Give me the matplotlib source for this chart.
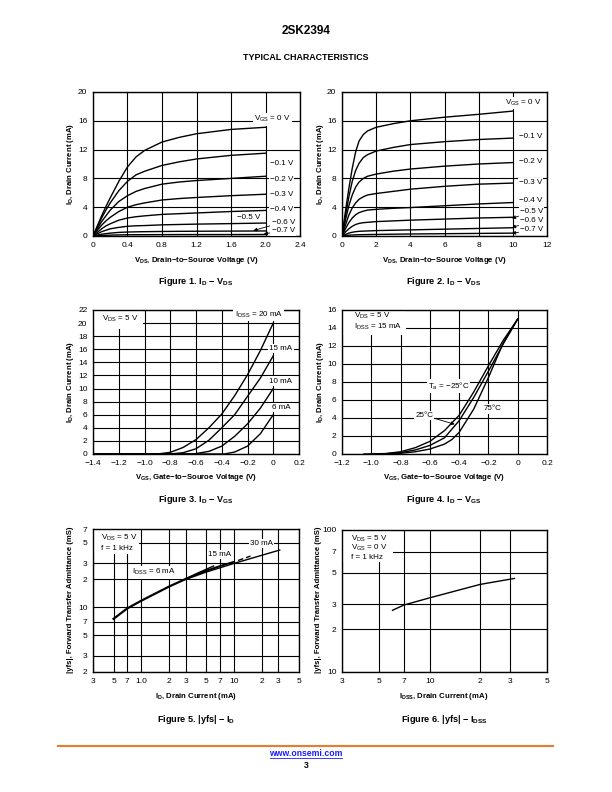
import matplotlib
matplotlib.use('Agg')
import matplotlib.pyplot as plt
from matplotlib.lines import Line2D
from matplotlib.patches import Rectangle
from matplotlib.ticker import NullLocator

plt.rcParams['font.family'] = ['Liberation Sans', 'DejaVu Sans']
plt.rcParams['mathtext.fontset'] = 'custom'
plt.rcParams['mathtext.rm'] = 'Liberation Sans'
plt.rcParams['mathtext.it'] = 'Liberation Sans:italic'
plt.rcParams['mathtext.bf'] = 'Liberation Sans:bold'

# ---- Figure 1: ID - VDS (0..2 V), one row per VGS = 0 ... -0.7 V
fig1_vds = [0, 0.05, 0.1, 0.15, 0.2, 0.3, 0.4, 0.5, 0.6, 0.8, 1.0, 1.2, 1.6, 2.0]
fig1_id = [
    [0, 1.4, 2.8, 4.1, 5.3, 7.6, 9.6, 11.0, 11.9, 13.05, 13.7, 14.2, 14.8, 15.1],
    [0, 1.25, 2.5, 3.6, 4.6, 6.3, 7.6, 8.5, 9.0, 9.8, 10.3, 10.7, 11.2, 11.5],
    [0, 1.0, 2.0, 2.8, 3.6, 4.8, 5.6, 6.2, 6.6, 7.2, 7.5, 7.7, 8.0, 8.3],
    [0, 0.8, 1.5, 2.1, 2.6, 3.4, 4.0, 4.35, 4.6, 5.0, 5.2, 5.35, 5.6, 5.8],
    [0, 0.5, 1.0, 1.4, 1.7, 2.2, 2.5, 2.68, 2.8, 3.0, 3.1, 3.2, 3.4, 3.55],
    [0, 0.3, 0.6, 0.8, 1.0, 1.2, 1.35, 1.42, 1.45, 1.55, 1.6, 1.65, 1.72, 1.8],
    [0, 0.13, 0.25, 0.33, 0.4, 0.5, 0.55, 0.58, 0.6, 0.63, 0.65, 0.66, 0.68, 0.7],
    [0, 0.04, 0.08, 0.1, 0.12, 0.15, 0.17, 0.18, 0.18, 0.19, 0.2, 0.2, 0.2, 0.21],
]

# ---- Figure 2: ID - VDS (0..10 V)
fig2_vds = [0, 0.2, 0.4, 0.6, 0.8, 1.0, 1.25, 1.5, 2, 3, 4, 6, 8, 10]
fig2_id = [
    [0, 3.4, 6.6, 9.4, 11.7, 13.2, 14.1, 14.6, 15.1, 15.6, 16.0, 16.5, 16.9, 17.35],
    [0, 2.8, 5.4, 7.6, 9.1, 10.1, 10.9, 11.3, 11.8, 12.3, 12.7, 13.1, 13.4, 13.6],
    [0, 2.2, 4.2, 5.7, 6.8, 7.5, 8.0, 8.3, 8.6, 9.0, 9.3, 9.7, 10.0, 10.2],
    [0, 1.5, 2.9, 3.9, 4.6, 5.1, 5.45, 5.7, 5.9, 6.2, 6.5, 6.9, 7.2, 7.35],
    [0, 1.0, 1.85, 2.5, 2.95, 3.25, 3.45, 3.6, 3.7, 3.85, 3.95, 4.2, 4.45, 4.65],
    [0, 0.55, 1.0, 1.35, 1.6, 1.75, 1.85, 1.9, 2.0, 2.1, 2.2, 2.35, 2.5, 2.6],
    [0, 0.22, 0.4, 0.52, 0.6, 0.65, 0.68, 0.7, 0.75, 0.8, 0.85, 0.95, 1.05, 1.15],
    [0, 0.07, 0.11, 0.14, 0.16, 0.18, 0.19, 0.2, 0.22, 0.25, 0.28, 0.32, 0.36, 0.4],
]

# ---- Figure 3: ID - VGS for IDSS = 20, 15, 10, 6 mA
fig3_vgs = [
    [-1.4, -0.9, -0.8, -0.7, -0.6, -0.5, -0.4, -0.3, -0.2, -0.1, 0],
    [-1.4, -0.8, -0.7, -0.6, -0.5, -0.4, -0.3, -0.2, -0.1, 0],
    [-1.4, -0.62, -0.5, -0.4, -0.3, -0.2, -0.1, 0],
    [-1.4, -0.38, -0.3, -0.2, -0.1, 0],
]
fig3_id = [
    [0, 0, 0.25, 1.0, 2.2, 4.0, 6.1, 8.9, 12.1, 15.8, 20],
    [0, 0, 0.2, 0.8, 2.1, 4.0, 6.0, 8.8, 11.6, 15],
    [0, 0, 0.4, 1.2, 2.7, 4.6, 7.0, 10],
    [0, 0, 0.3, 1.2, 3.1, 6],
]

# ---- Figure 4: ID - VGS, Ta = -25, 25, 75 C
fig4_vgs = [
    [-1.05, -0.9, -0.8, -0.7, -0.6, -0.5, -0.4, -0.3, -0.2, -0.1, 0],
    [-1.0, -0.9, -0.8, -0.7, -0.6, -0.5, -0.4, -0.3, -0.2, -0.1, 0],
    [-0.95, -0.8, -0.7, -0.6, -0.5, -0.45, -0.4, -0.3, -0.2, -0.1, 0],
]
fig4_id = [
    [0, 0.05, 0.25, 0.7, 1.4, 2.6, 4.3, 6.9, 9.8, 12.6, 15],
    [0, 0.03, 0.15, 0.45, 0.95, 1.8, 3.7, 6.3, 9.2, 12.2, 15],
    [0, 0.08, 0.25, 0.55, 1.1, 1.6, 2.4, 5.0, 8.5, 12.3, 15],
]

# ---- Figure 5: |yfs| - ID
fig5_id_common = [0.5, 0.7, 1.0, 2.0, 3.0]
fig5_yfs_common = [7.5, 9.7, 11.8, 16.8, 20.2]
fig5_id_6 = [3.0, 4.0, 6.0]
fig5_yfs_6 = [20.4, 23.3, 27.9]
fig5_id_10 = [3.0, 5.0, 7.0, 10.0]
fig5_yfs_10 = [20.3, 25.0, 28.0, 31.2]
fig5_id_15 = [3.0, 5.0, 7.0, 10.0]
fig5_yfs_15 = [20.2, 24.6, 27.6, 31.0]
fig5_id_15_dash = [11.0, 15.0]
fig5_yfs_15_dash = [32.0, 35.7]
fig5_id_30 = [3.0, 5.0, 10.0, 20.0, 31.0]
fig5_yfs_30 = [20.0, 24.0, 29.8, 36.5, 41.5]

# ---- Figure 6: |yfs| - IDSS
fig6_idss = [6, 7, 10, 20, 32]
fig6_yfs = [27.2, 29.6, 33.3, 41.4, 45.6]

W, H = 612, 792
fig = plt.figure(figsize=(W / 100, H / 100), dpi=100)


def axes_px(x0, y0, x1, y1):
    return fig.add_axes([x0 / W, 1 - y1 / H, (x1 - x0) / W, (y1 - y0) / H])


def ftext(x, y, s, **kw):
    fig.text(x / W, 1 - y / H, s, ha='center', va='center', **kw)


def style(ax, xt, xl, yt, yl):
    ax.set_xticks(xt)
    ax.set_xticklabels(xl)
    ax.set_yticks(yt)
    ax.set_yticklabels(yl)
    ax.xaxis.set_minor_locator(NullLocator())
    ax.yaxis.set_minor_locator(NullLocator())
    ax.tick_params(length=0, labelsize=6, pad=4)
    ax.grid(True, color='black', lw=0.8)
    ax.set_axisbelow(True)
    for s in ax.spines.values():
        s.set_linewidth(1.0)


def lab(ax, x, y, s, ha='left', fs=5.8):
    ax.text(x, y, s, fontsize=fs, ha=ha, va='center', zorder=5,
            bbox=dict(fc='white', ec='none', pad=0.8))


def arrow_lab(ax, s, xy, xytext):
    ax.annotate(s, xy=xy, xytext=xytext, fontsize=5.8, va='center', zorder=5,
                bbox=dict(fc='white', ec='none', pad=0.8),
                arrowprops=dict(arrowstyle='-|>', color='black', lw=0.6,
                                mutation_scale=5, shrinkA=0, shrinkB=0))


def box(ax, x0, y0, x1, y1):
    ax.add_patch(Rectangle((x0, y0), x1 - x0, y1 - y0, fc='white', ec='none', zorder=2.5))


def curve(ax, x, y, lw=1.0, **kw):
    ax.plot(x, y, color='black', lw=lw, zorder=3, **kw)


M = '\u2212'
ylab_id = r'I$_{\mathbf{D}}$, Drain Current (mA)'
ylab_yfs = r'|yfs|, Forward Transfer Admittance (mS)'

# ---------------- Figure 1
ax1 = axes_px(93, 92, 300, 236)
ax1.set_xlim(0, 2.4)
ax1.set_ylim(0, 20)
style(ax1, [0, 0.4, 0.8, 1.2, 1.6, 2.0, 2.4], ['0', '0.4', '0.8', '1.2', '1.6', '2.0', '2.4'],
      [0, 4, 8, 12, 16, 20], ['0', '4', '8', '12', '16', '20'])
for ys in fig1_id:
    curve(ax1, fig1_vds, ys)
lab(ax1, 1.87, 16.2, r'V$_{\mathrm{GS}}$ = 0 V')
lab(ax1, 2.05, 10.1, M + '0.1 V')
lab(ax1, 2.05, 7.9, M + '0.2 V')
lab(ax1, 2.05, 5.8, M + '0.3 V')
lab(ax1, 2.05, 3.7, M + '0.4 V')
lab(ax1, 1.67, 2.6, M + '0.5 V')
arrow_lab(ax1, M + '0.6 V', (1.86, 0.75), (2.07, 1.94))
arrow_lab(ax1, M + '0.7 V', (1.98, 0.3), (2.07, 0.7))

# ---------------- Figure 2
ax2 = axes_px(342, 92, 547, 236)
ax2.set_xlim(0, 12)
ax2.set_ylim(0, 20)
style(ax2, [0, 2, 4, 6, 8, 10, 12], ['0', '2', '4', '6', '8', '10', '12'],
      [0, 4, 8, 12, 16, 20], ['0', '4', '8', '12', '16', '20'])
for ys in fig2_id:
    curve(ax2, fig2_vds, ys)
lab(ax2, 9.55, 18.5, r'V$_{\mathrm{GS}}$ = 0 V')
lab(ax2, 10.35, 13.8, M + '0.1 V')
lab(ax2, 10.35, 10.4, M + '0.2 V')
lab(ax2, 10.35, 7.45, M + '0.3 V')
lab(ax2, 10.35, 4.9, M + '0.4 V')
arrow_lab(ax2, M + '0.5 V', (9.95, 2.45), (10.4, 3.35))
arrow_lab(ax2, M + '0.6 V', (9.95, 1.15), (10.4, 2.1))
arrow_lab(ax2, M + '0.7 V', (9.95, 0.35), (10.4, 0.84))

# ---------------- Figure 3
ax3 = axes_px(93, 310, 299, 454)
ax3.set_xlim(-1.4, 0.2)
ax3.set_ylim(0, 22)
x3 = [-1.4, -1.2, -1.0, -0.8, -0.6, -0.4, -0.2, 0, 0.2]
style(ax3, x3, [M + '1.4', M + '1.2', M + '1.0', M + '0.8', M + '0.6', M + '0.4', M + '0.2', '0', '0.2'],
      list(range(0, 23, 2)), [str(v) for v in range(0, 23, 2)])
for xs, ys in zip(fig3_vgs, fig3_id):
    curve(ax3, xs, ys)
box(ax3, -1.4, 19.1, -1.015, 22)
ax3.text(-1.33, 20.6, r'V$_{\mathrm{DS}}$ = 5 V', fontsize=5.8, va='center', zorder=5)
lab(ax3, -0.30, 21.2, r'I$_{\mathrm{DSS}}$ = 20 mA')
lab(ax3, -0.03, 16.1, '15 mA')
lab(ax3, -0.03, 11.15, '10 mA')
lab(ax3, -0.01, 7.1, '6 mA')

# ---------------- Figure 4
ax4 = axes_px(342, 310, 547, 454)
ax4.set_xlim(-1.2, 0.2)
ax4.set_ylim(0, 16)
x4 = [-1.2, -1.0, -0.8, -0.6, -0.4, -0.2, 0, 0.2]
style(ax4, x4, [M + '1.2', M + '1.0', M + '0.8', M + '0.6', M + '0.4', M + '0.2', '0', '0.2'],
      list(range(0, 17, 2)), [str(v) for v in range(0, 17, 2)])
for xs, ys in zip(fig4_vgs, fig4_id):
    curve(ax4, xs, ys)
box(ax4, -1.2, 13.2, -0.76, 16)
ax4.text(-1.12, 15.33, r'V$_{\mathrm{DS}}$ = 5 V', fontsize=5.8, va='center', zorder=5)
ax4.text(-1.12, 14.08, r'I$_{\mathrm{DSS}}$ = 15 mA', fontsize=5.8, va='center', zorder=5)
lab(ax4, -0.615, 7.55, r'T$_{\mathrm{a}}$ = ' + M + '25°C')
arrow_lab(ax4, '25°C', (-0.43, 3.3), (-0.70, 4.3))
lab(ax4, -0.23, 5.0, '75°C')

# ---------------- Figure 5
ax5 = axes_px(93, 529, 299, 672)
ax5.set_xscale('log')
ax5.set_yscale('log')
ax5.set_xlim(0.3, 50)
ax5.set_ylim(2, 70)
style(ax5, [0.3, 0.5, 0.7, 1, 2, 3, 5, 7, 10, 20, 30, 50],
      ['3', '5', '7', '1.0', '2', '3', '5', '7', '10', '2', '3', '5'],
      [2, 3, 5, 7, 10, 20, 30, 50, 70], ['2', '3', '5', '7', '10', '2', '3', '5', '7'])
curve(ax5, fig5_id_common, fig5_yfs_common, lw=1.6)  # several curves on top of each other
curve(ax5, fig5_id_6, fig5_yfs_6)
curve(ax5, fig5_id_10, fig5_yfs_10)
curve(ax5, fig5_id_15, fig5_yfs_15)
curve(ax5, fig5_id_15_dash, fig5_yfs_15_dash, ls=(0, (4, 2)))
curve(ax5, fig5_id_30, fig5_yfs_30)
box(ax5, 0.3, 38, 0.95, 70)
ax5.text(0.37, 55.6, r'V$_{\mathrm{DS}}$ = 5 V', fontsize=5.8, va='center', zorder=5)
ax5.text(0.37, 43.3, 'f = 1 kHz', fontsize=5.8, va='center', zorder=5)
lab(ax5, 0.80, 23.8, r'I$_{\mathrm{DSS}}$ = 6 mA')
lab(ax5, 5.2, 37.3, '15 mA')
lab(ax5, 14.7, 49, '30 mA')

# ---------------- Figure 6
ax6 = axes_px(342, 530, 547, 672)
ax6.set_xscale('log')
ax6.set_yscale('log')
ax6.set_xlim(3, 50)
ax6.set_ylim(10, 100)
style(ax6, [3, 5, 7, 10, 20, 30, 50], ['3', '5', '7', '10', '2', '3', '5'],
      [10, 20, 30, 50, 70, 100], ['10', '2', '3', '5', '7', '100'])
curve(ax6, fig6_idss, fig6_yfs)
box(ax6, 3, 59.5, 6.0, 100)
ax6.text(3.4, 87, r'V$_{\mathrm{DS}}$ = 5 V', fontsize=5.8, va='center', zorder=5)
ax6.text(3.4, 74.5, r'V$_{\mathrm{GS}}$ = 0 V', fontsize=5.8, va='center', zorder=5)
ax6.text(3.4, 64, 'f = 1 kHz', fontsize=5.8, va='center', zorder=5)

# ---------------- axis titles and captions
bold = dict(fontsize=5.6, fontweight='bold')
cap = dict(fontsize=6.6, fontweight='bold')
ftext(196, 260, 'V$_{\\mathbf{DS}}$, Drain\u2212to\u2212Souroe Voltage (V)', **bold)
ftext(444, 260, 'V$_{\\mathbf{DS}}$, Drain\u2212to\u2212Souroe Voltage (V)', **bold)
ftext(196, 478, 'V$_{\\mathbf{GS}}$, Gate\u2212to\u2212Souroe Voltage (V)', **bold)
ftext(444, 478, 'V$_{\\mathbf{GS}}$, Gate\u2212to\u2212Souroe Voltage (V)', **bold)
ftext(196, 696, r'I$_{\mathbf{D}}$, Drain Current (mA)', **bold)
ftext(444, 696, r'I$_{\mathbf{DSS}}$, Drain Current (mA)', **bold)

for x, yc in [(71, 164), (320, 164), (71, 382), (320, 382)]:
    ftext(x, yc, ylab_id, rotation=90, **bold)
for x, yc in [(70, 600), (319, 600)]:
    ftext(x, yc, ylab_yfs, rotation=90, **bold)

ftext(196, 282, r'Figure 1. I$_{\mathbf{D}}$ ' + M + r' V$_{\mathbf{DS}}$', **cap)
ftext(444, 282, r'Figure 2. I$_{\mathbf{D}}$ ' + M + r' V$_{\mathbf{DS}}$', **cap)
ftext(196, 499, r'Figure 3. I$_{\mathbf{D}}$ ' + M + r' V$_{\mathbf{GS}}$', **cap)
ftext(444, 499, r'Figure 4. I$_{\mathbf{D}}$ ' + M + r' V$_{\mathbf{GS}}$', **cap)
ftext(196, 719, 'Figure 5. |yfs| ' + M + r' I$_{\mathbf{D}}$', **cap)
ftext(444, 719, 'Figure 6. |yfs| ' + M + r' I$_{\mathbf{DSS}}$', **cap)

# ---------------- header / footer
ftext(306, 31, '2SK2394', fontsize=8.5, fontweight='bold')
ftext(306, 58, 'TYPICAL CHARACTERISTICS', fontsize=6.4, fontweight='bold')
fig.add_artist(Line2D([58 / W, 553 / W], [1 - 745.5 / H, 1 - 745.5 / H], color='#d9833a', lw=1.6))
ftext(306, 753.5, 'www.onsemi.com', fontsize=6.2, fontweight='bold', color='#1a1aff')
fig.add_artist(Line2D([270 / W, 342 / W], [1 - 757.5 / H, 1 - 757.5 / H], color='#1a1aff', lw=0.6))
ftext(306, 765, '3', fontsize=6.2, fontweight='bold')

fig.savefig('out.png', dpi=100)
